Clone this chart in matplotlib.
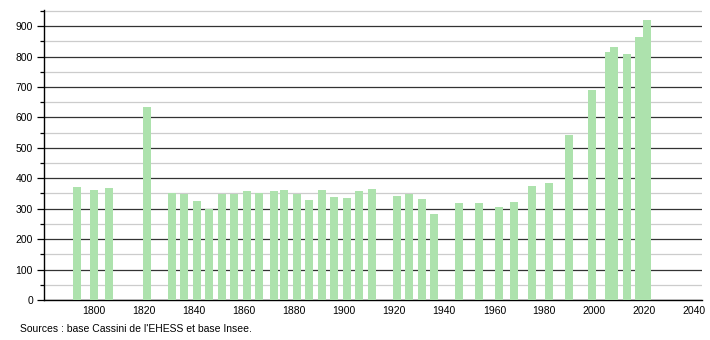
import matplotlib
matplotlib.use("Agg")
import matplotlib.pyplot as plt
from matplotlib.ticker import MultipleLocator

# census years and population
years = [1793, 1800, 1806, 1821, 1831, 1836, 1841, 1846, 1851, 1856,
         1861, 1866, 1872, 1876, 1881, 1886, 1891, 1896, 1901, 1906,
         1911, 1921, 1926, 1931, 1936, 1946, 1954, 1962, 1968, 1975,
         1982, 1990, 1999, 2006, 2008, 2013, 2018, 2021]
population = [371, 361, 369, 633, 352, 347, 325, 299, 347, 349,
              357, 352, 357, 361, 347, 328, 361, 338, 335, 358,
              365, 342, 348, 332, 282, 319, 319, 305, 322, 374,
              384, 542, 690, 815, 830, 808, 865, 920]
xticks = list(range(1800, 2041, 20))
source = "Sources : base Cassini de l'EHESS et base Insee."

plt.rcParams['font.family'] = ['Liberation Sans', 'DejaVu Sans']

fig = plt.figure(figsize=(7.1, 3.4), dpi=100)
ax = fig.add_axes([44 / 710, 40 / 340, 658 / 710, 290 / 340])

ax.bar(years, population, width=3.2, color='#ade2ad', zorder=3)

ax.set_xlim(1780, 2043)
ax.set_ylim(0, 953)
ax.yaxis.set_major_locator(MultipleLocator(100))
ax.yaxis.set_minor_locator(MultipleLocator(50))
ax.set_xticks(xticks)

ax.grid(axis='y', which='major', color='#333333', linewidth=0.9, zorder=1)
ax.grid(axis='y', which='minor', color='#cccccc', linewidth=0.9, zorder=1)

for s in ['top', 'right']:
    ax.spines[s].set_visible(False)
ax.spines['left'].set_linewidth(1.0)
ax.spines['bottom'].set_linewidth(1.0)
ax.tick_params(axis='y', which='major', length=5, width=0.9, labelsize=7.5, pad=3)
ax.tick_params(axis='y', which='minor', length=3, width=0.9)
ax.tick_params(axis='x', length=0, labelsize=7.5, pad=4)

fig.text(20 / 710, 1 - 329 / 340, source, fontsize=7.5, va='center', ha='left')

fig.savefig('out.png', dpi=100)
